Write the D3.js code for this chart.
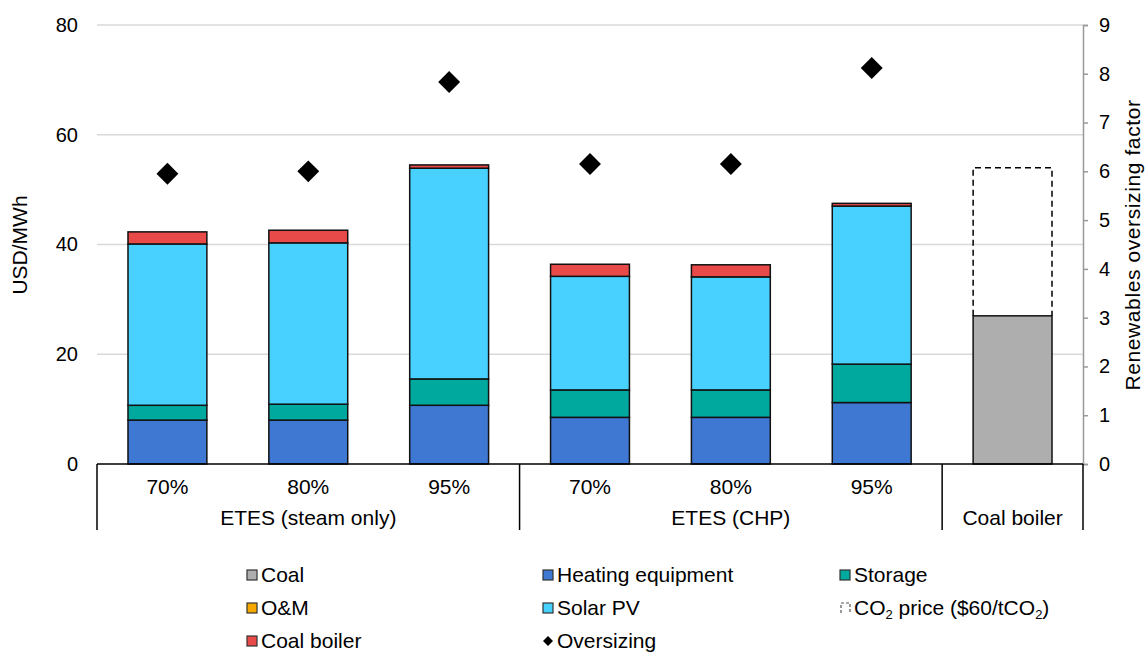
<!DOCTYPE html>
<html><head><meta charset="utf-8">
<script src="https://cdn.jsdelivr.net/npm/d3@7"></script>
<style>body{margin:0;background:#fff;} text{font-family:"Liberation Sans",Arial,sans-serif;fill:#000;}</style>
</head><body><svg id="c" width="1145" height="655"></svg>
<script>
const categories = ["70%","80%","95%","70%","80%","95%",""];
const groups = ["ETES (steam only)","ETES (CHP)","Coal boiler"];
const groupSizes = [3,3,1];
const coal       = [0,0,0,0,0,0,27];
const heating    = [8.0,8.0,10.7,8.5,8.5,11.2,0];
const storage    = [2.7,2.9,4.8,5.0,5.0,7.0,0];
const om         = [0,0,0,0,0,0,0];
const solar      = [29.4,29.4,38.4,20.7,20.6,28.8,0];
const coalBoiler = [2.2,2.3,0.6,2.2,2.2,0.5,0];
const co2        = [0,0,0,0,0,0,27];
const oversizing = [5.95,6.0,7.83,6.15,6.15,8.12,null];
const leftTicks = [0,20,40,60,80];
const rightTicks = [0,1,2,3,4,5,6,7,8,9];

const series = [
  {name:"Coal", values:coal, color:"#AEAEAE"},
  {name:"Heating equipment", values:heating, color:"#3E78D2"},
  {name:"Storage", values:storage, color:"#00A99D"},
  {name:"O&M", values:om, color:"#F5A800"},
  {name:"Solar PV", values:solar, color:"#48D1FF"},
  {name:"Coal boiler", values:coalBoiler, color:"#E84A4A"},
  {name:"CO2", values:co2, color:"none", dashed:true}
];

const FS = "20px";
const svg = d3.select("#c");
const L = 97, R = 1083, T = 25, B = 464;
const x = d3.scaleBand().domain(d3.range(categories.length)).range([L, R]).paddingInner(0.44).paddingOuter(0.22);
const y = d3.scaleLinear().domain([0,80]).range([B,T]);
const y2 = d3.scaleLinear().domain([0,9]).range([B,T]);

// gridlines
svg.append("g").selectAll("line").data(leftTicks.filter(d=>d>0)).join("line")
  .attr("x1",L).attr("x2",R).attr("y1",d=>y(d)).attr("y2",d=>y(d))
  .attr("stroke","#d9d9d9").attr("stroke-width",1.5);

// left axis labels
const la = svg.append("g").attr("transform",`translate(${L},0)`)
  .call(d3.axisLeft(y).tickValues(leftTicks).tickSize(0).tickPadding(19));
la.select(".domain").remove();
la.selectAll("text").style("font-size",FS).attr("font-family","Liberation Sans, Arial");

// right axis
const ra = svg.append("g").attr("transform",`translate(${R},0)`)
  .call(d3.axisRight(y2).tickValues(rightTicks).tickSize(5).tickPadding(11));
ra.select(".domain").attr("stroke","#999").attr("stroke-width",1.5);
ra.selectAll(".tick line").attr("stroke","#999").attr("stroke-width",1.5);
ra.selectAll("text").style("font-size",FS).attr("font-family","Liberation Sans, Arial");

// stacked bars
const bw = x.bandwidth();
categories.forEach((c,i)=>{
  let base = 0;
  series.forEach(s=>{
    const v = s.values[i];
    if (v > 0) {
      if (s.dashed) {
        const x0=x(i), x1=x(i)+bw, yt=y(base+v), yb=y(base);
        svg.append("path").attr("d",`M${x0},${yb}V${yt}H${x1}V${yb}`)
          .attr("fill","none").attr("stroke","#000").attr("stroke-width",1.5).attr("stroke-dasharray","6,4");
      } else {
        svg.append("rect").attr("x",x(i)).attr("width",bw)
          .attr("y",y(base+v)).attr("height",y(base)-y(base+v))
          .attr("fill",s.color).attr("stroke","#111").attr("stroke-width",1.5);
      }
    }
    base += v;
  });
});

// oversizing diamonds
const diamond = d3.symbol().type(d3.symbolSquare).size(240);
svg.append("g").selectAll("path").data(oversizing.map((v,i)=>({v,i})).filter(d=>d.v!=null)).join("path")
  .attr("d",diamond())
  .attr("transform",d=>`translate(${x(d.i)+bw/2},${y2(d.v)}) rotate(45)`)
  .attr("fill","#000");

// category axis box
const ax = svg.append("g");
ax.append("line").attr("x1",L).attr("x2",R).attr("y1",B).attr("y2",B).attr("stroke","#000").attr("stroke-width",1.5);
let idx = 0;
const seps = [L];
groupSizes.forEach(n=>{ idx += n; seps.push(idx<categories.length ? (x(idx-1)+bw + x(idx))/2 : R); });
seps.forEach(sx=>ax.append("line").attr("x1",sx).attr("x2",sx).attr("y1",B).attr("y2",530).attr("stroke","#000").attr("stroke-width",1.5));
categories.forEach((c,i)=>{
  ax.append("text").attr("x",x(i)+bw/2).attr("y",494).attr("text-anchor","middle").style("font-size","21px").text(c);
});
groups.forEach((g,k)=>{
  ax.append("text").attr("x",(seps[k]+seps[k+1])/2).attr("y",525).attr("text-anchor","middle").style("font-size","21px").text(g);
});

// axis titles
svg.append("text").attr("transform","translate(27,245) rotate(-90)").attr("text-anchor","middle").style("font-size","21px").text("USD/MWh");
svg.append("text").attr("transform","translate(1140,245) rotate(-90)").attr("text-anchor","middle").style("font-size","21px").style("letter-spacing","0.6px").text("Renewables oversizing factor");

// legend
const legendItems = [
  {name:"Coal", type:"rect", color:"#AEAEAE"},
  {name:"Heating equipment", type:"rect", color:"#3E78D2"},
  {name:"Storage", type:"rect", color:"#00A99D"},
  {name:"O&M", type:"rect", color:"#F5A800"},
  {name:"Solar PV", type:"rect", color:"#48D1FF"},
  {name:"CO2", type:"dash"},
  {name:"Coal boiler", type:"rect", color:"#E84A4A"},
  {name:"Oversizing", type:"diamond"}
];
const colX = [247, 543, 840], rowY = [575, 608, 641];
legendItems.forEach((it,k)=>{
  const gx = colX[k%3], gy = rowY[Math.floor(k/3)];
  const g = svg.append("g").attr("transform",`translate(${gx},${gy})`);
  if (it.type==="rect") {
    g.append("rect").attr("x",0).attr("y",-5).attr("width",10).attr("height",10).attr("fill",it.color).attr("stroke","#333").attr("stroke-width",1.2);
  } else if (it.type==="dash") {
    g.append("path").attr("d","M1,5V-5H10V5").attr("fill","none").attr("stroke","#555").attr("stroke-width",1.2).attr("stroke-dasharray","3,2");
  } else {
    g.append("path").attr("d",d3.symbol().type(d3.symbolSquare).size(50)()).attr("transform","translate(5,0) rotate(45)").attr("fill","#000");
  }
  const t = g.append("text").attr("x",14).attr("y",7).style("font-size","21px");
  if (it.type==="dash") {
    t.append("tspan").text("CO");
    t.append("tspan").attr("dy",4).style("font-size","13px").text("2");
    t.append("tspan").attr("dy",-4).text(" price ($60/tCO");
    t.append("tspan").attr("dy",4).style("font-size","13px").text("2");
    t.append("tspan").attr("dy",-4).text(")");
  } else t.text(it.name);
});
</script></body></html>
